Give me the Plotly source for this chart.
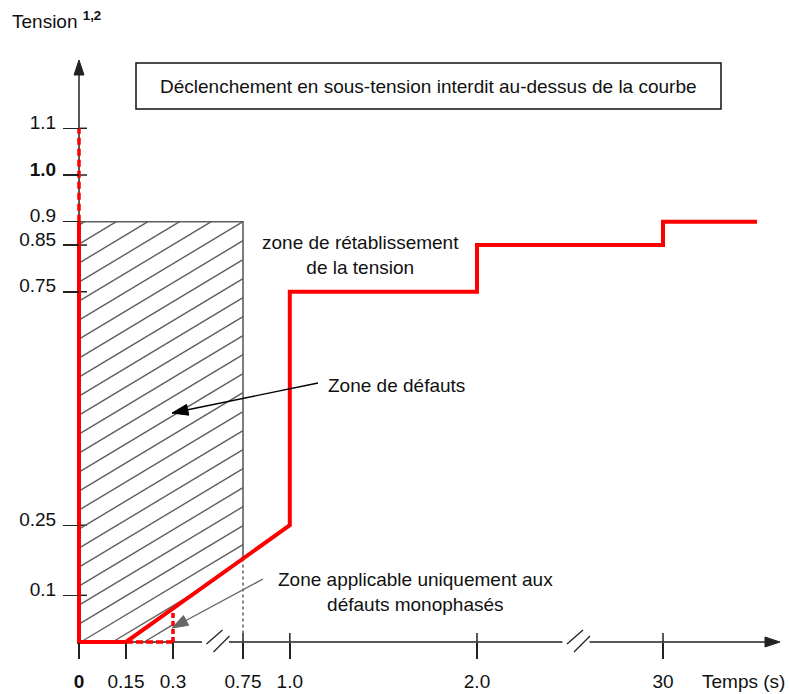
import numpy as np
import plotly.graph_objects as go

W, H = 790, 694

# ---------------- data ----------------
time_ticks = [0, 0.15, 0.3, 0.75, 1.0, 2.0, 30]
time_labels = ["<b>0</b>", "0.15", "0.3", "0.75", "1.0", "2.0", "30"]
tension_ticks = [0.1, 0.25, 0.75, 0.85, 0.9, 1.0, 1.1]
tension_labels = ["0.1", "0.25", "0.75", "0.85", "0.9", "<b>1.0</b>", "1.1"]

# red limit curve (time in s, tension in p.u.)
curve_time = [0, 0, 0.15, 1.0, 1.0, 2.0, 2.0, 30, 30, 45]
curve_tension = [0.9, 0, 0, 0.25, 0.75, 0.75, 0.85, 0.85, 0.9, 0.9]

# dotted extension of the curve above 0.9
upper_time = [0, 0]
upper_tension = [0.9, 1.1]

# single-phase-fault zone (dashed)
mono_time = [0.15, 0.3]
mono_tension = [0, 0]

# fault zone (hatched rectangle)
fault_time = [0, 0.75]
fault_tension = [0, 0.9]

# ---------------- broken (schematic) time scale ----------------
SCALE_T = [0, 0.3, 0.75, 2.0, 30, 45]
SCALE_U = [0, 94, 164, 398, 584, 678]
PX_PER_V = 467.0


def X(t):
    return np.interp(t, SCALE_T, SCALE_U)


def diag(u):
    # straight red segment between (0.15, 0) and (1.0, 0.25)
    return np.interp(u, [X(curve_time[2]), X(curve_time[3])],
                     [curve_tension[2], curve_tension[3]])


X_RANGE = [-79, 711]
Y_RANGE = [-52 / PX_PER_V, 642 / PX_PER_V]

FONT = "Liberation Sans, Arial, sans-serif"
AX = "#222222"
GRAY = "#5e5e5e"

fig = go.Figure()

# ---------------- hatching of the fault zone ----------------
u0, u1 = X(fault_time[0]), X(fault_time[1])
ua = X(mono_time[1])
poly = [(u0, fault_tension[0]), (ua, fault_tension[0]), (ua, diag(ua)),
        (u1, diag(u1)), (u1, fault_tension[1]), (u0, fault_tension[1])]
poly_px = [(u, v * PX_PER_V) for u, v in poly]
m = 0.6
step = 19.0
c_ref = poly_px[4][1] - m * poly_px[4][0]
hx, hy = [], []
for k in range(-40, 40):
    c = c_ref + k * step
    pts = []
    n = len(poly_px)
    for i in range(n):
        (a0, b0), (a1, b1) = poly_px[i], poly_px[(i + 1) % n]
        f0 = b0 - m * a0 - c
        f1 = b1 - m * a1 - c
        if (f0 > 0) != (f1 > 0):
            s = f0 / (f0 - f1)
            pts.append(a0 + s * (a1 - a0))
    pts.sort()
    for j in range(0, len(pts) - 1, 2):
        for uu in (pts[j], pts[j + 1]):
            hx.append(uu)
            hy.append((m * uu + c) / PX_PER_V)
        hx.append(None)
        hy.append(None)

fig.add_trace(go.Scatter(x=hx, y=hy, mode="lines",
                         line=dict(color=GRAY, width=1.4),
                         hoverinfo="skip", showlegend=False))

# fault zone border (top + right edge, dotted below the curve)
fig.add_trace(go.Scatter(
    x=[u0, u1, u1], y=[fault_tension[1], fault_tension[1], diag(u1)],
    mode="lines", line=dict(color=GRAY, width=1.6), showlegend=False))
fig.add_trace(go.Scatter(
    x=[u1, u1], y=[diag(u1), fault_tension[0]],
    mode="lines", line=dict(color=GRAY, width=1.5, dash="3px,3px"),
    showlegend=False))

# ---------------- red curves ----------------
fig.add_trace(go.Scatter(x=X(curve_time), y=curve_tension, mode="lines",
                         line=dict(color="#ff0000", width=4),
                         showlegend=False))
fig.add_trace(go.Scatter(x=X(upper_time), y=upper_tension, mode="lines",
                         line=dict(color="#ff0000", width=3.5,
                                   dash="7px,4px"),
                         showlegend=False))
fig.add_trace(go.Scatter(x=X(mono_time), y=mono_tension, mode="lines",
                         line=dict(color="#ff0000", width=3.5,
                                   dash="7px,3px"),
                         showlegend=False))
fig.add_trace(go.Scatter(x=[X(mono_time[1]), X(mono_time[1])],
                         y=[0, diag(X(mono_time[1]))], mode="lines",
                         line=dict(color="#ff0000", width=3.5,
                                   dash="5px,3px"),
                         showlegend=False))

# ---------------- axes drawn as shapes (broken axis with arrows) --------
shapes = []
shapes.append(dict(type="line", xref="x", yref="y", x0=0, x1=690, y0=0,
                   y1=0, line=dict(color=AX, width=1.5), layer="below"))
shapes.append(dict(type="path", xref="x", yref="y", ysizemode="pixel",
                   yanchor=0, path="M 686,-5 L 701,0 L 686,5 Z",
                   fillcolor=AX, line=dict(color=AX, width=1),
                   layer="below"))
shapes.append(dict(type="line", xref="x", yref="y", xsizemode="pixel",
                   ysizemode="pixel", xanchor=0, yanchor=0, x0=0, x1=0,
                   y0=0, y1=570, line=dict(color=AX, width=1.5),
                   layer="below"))
shapes.append(dict(type="path", xref="x", yref="y", xsizemode="pixel",
                   ysizemode="pixel", xanchor=0, yanchor=0,
                   path="M -5,567 L 0,582 L 5,567 Z", fillcolor=AX,
                   line=dict(color=AX, width=1), layer="below"))
for bc in (136.5, 497):
    shapes.append(dict(type="rect", xref="x", yref="y", ysizemode="pixel",
                       yanchor=0, x0=bc - 13.5, x1=bc + 13.5, y0=-3, y1=3,
                       fillcolor="white", line=dict(width=0),
                       layer="below"))
    shapes.append(dict(type="line", xref="x", yref="y", ysizemode="pixel",
                       yanchor=0, x0=bc - 9, x1=bc + 7, y0=-2, y1=12,
                       line=dict(color=AX, width=1.3), layer="below"))
    shapes.append(dict(type="line", xref="x", yref="y", ysizemode="pixel",
                       yanchor=0, x0=bc - 2, x1=bc + 14, y0=-10, y1=6,
                       line=dict(color=AX, width=1.3), layer="below"))
for tv in tension_ticks:
    if tv == fault_tension[1]:
        continue
    shapes.append(dict(type="line", xref="x", yref="y", x0=0, x1=8,
                       y0=tv, y1=tv, line=dict(color=AX, width=1.5),
                       layer="below"))
for tt in time_ticks:
    if tt < 0.5:
        continue
    shapes.append(dict(type="line", xref="x", yref="y", ysizemode="pixel",
                       yanchor=0, x0=float(X(tt)), x1=float(X(tt)),
                       y0=0, y1=9, line=dict(color=AX, width=1.5),
                       layer="below"))
shapes.append(dict(type="rect", xref="paper", yref="paper",
                   x0=136 / W, x1=721 / W, y0=1 - 109 / H, y1=1 - 63 / H,
                   line=dict(color="#111", width=1.5), fillcolor="white"))


def P(px, py):
    return px / W, 1 - py / H


def D(px, py):
    return px - 79, (642 - py) / PX_PER_V


def pointer(tail, head, color, length=16, half=5.5):
    """Arrow drawn with shapes: line + filled triangle head (pixel sized)."""
    (tx, ty), (hx_, hy_) = tail, head
    dx, dy = hx_ - tx, -(hy_ - ty)
    L = (dx * dx + dy * dy) ** 0.5
    ux, uy = dx / L, dy / L
    nx, ny = -uy, ux
    bx, by = -length * ux, -length * uy
    p1 = (bx + half * nx, by + half * ny)
    p2 = (bx - half * nx, by - half * ny)
    ax_, ay_ = D(*head)
    tx_d, ty_d = D(*tail)
    out = [dict(type="line", xref="x", yref="y", x0=tx_d, y0=ty_d,
                x1=ax_, y1=ay_, line=dict(color=color, width=1.4)),
           dict(type="path", xref="x", yref="y", xsizemode="pixel",
                ysizemode="pixel", xanchor=ax_, yanchor=ay_,
                path="M 0,0 L %.2f,%.2f L %.2f,%.2f Z" % (p1 + p2),
                fillcolor=color, line=dict(color=color, width=1))]
    return out


shapes += pointer((318, 383), (172, 413), "#000000")
shapes += pointer((263, 579), (172, 628), "#666666")


def txt(px, py, text, xanchor="center", size=19):
    x, y = P(px, py)
    return dict(xref="paper", yref="paper", x=x, y=y, xanchor=xanchor,
                yanchor="middle", showarrow=False, text=text,
                align="center",
                font=dict(size=size, color="#111", family=FONT))


ann = [
    txt(10, 20, "Tension <sup><b>1,2</b></sup>", xanchor="left", size=19),
    txt(428.5, 87,
        "Déclenchement en sous-tension interdit au-dessus de la courbe"),
    txt(360, 255, "zone de rétablissement<br>de la tension"),
    txt(326, 385, "Zone de défauts", xanchor="left"),
    txt(415, 592, "Zone applicable uniquement aux<br>défauts monophasés"),
    txt(743, 681, "Temps (s)"),
]

fig.update_layout(
    width=W, height=H, autosize=False,
    margin=dict(l=0, r=0, t=0, b=0, pad=0),
    paper_bgcolor="white", plot_bgcolor="white",
    showlegend=False,
    font=dict(family=FONT, size=19, color="#111"),
    shapes=shapes, annotations=ann,
    xaxis=dict(range=X_RANGE, anchor="free", position=52 / H,
               tickmode="array", tickvals=[float(v) for v in X(time_ticks)],
               ticktext=time_labels, ticks="outside", ticklen=16,
               tickwidth=1.5, tickcolor=AX, showline=False, showgrid=False,
               zeroline=False, tickfont=dict(size=19, color="#111",
                                             family=FONT),
               ticklabelstandoff=6, automargin=False, fixedrange=True),
    yaxis=dict(range=Y_RANGE, anchor="free", position=79 / W,
               tickmode="array", tickvals=tension_ticks,
               ticktext=tension_labels, ticks="outside", ticklen=16,
               tickwidth=1.5, tickcolor=AX, showline=False, showgrid=False,
               zeroline=False, tickfont=dict(size=19, color="#111",
                                             family=FONT),
               ticklabelstandoff=3, ticklabelshift=-6, automargin=False,
               fixedrange=True),
)

fig.write_html("out.html",
               config={"displayModeBar": False, "staticPlot": True},
               post_script="document.body.style.margin='0';"
                           "document.body.style.padding='0';")
